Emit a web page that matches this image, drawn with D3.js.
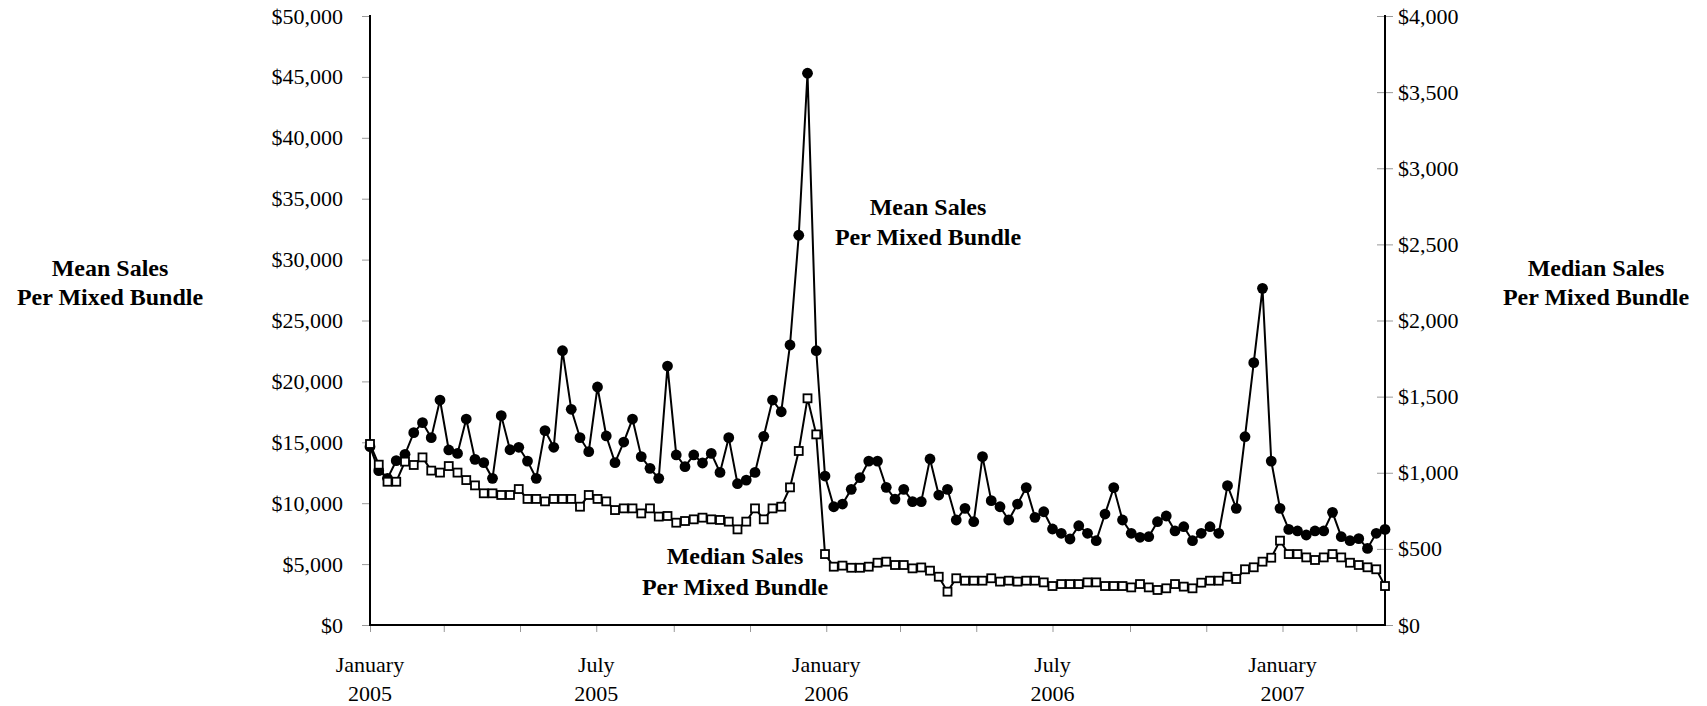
<!DOCTYPE html>
<html>
<head>
<meta charset="utf-8">
<script src="https://cdn.jsdelivr.net/npm/d3@7"></script>
<style>
  html, body { margin: 0; padding: 0; background: #fff; }
  svg { display: block; }
  text { font-family: "Liberation Serif", "Times New Roman", serif; fill: #000; }
</style>
</head>
<body>
<svg id="chart" width="1707" height="706"></svg>
<script>
// ---- Data (weekly, starting first week of January 2005) ----
const startDate = "2005-01-01";
const weekCount = 117;

// Mean sales per mixed bundle (US$), left axis
const meanSales = [
  14640, 12670, 12040, 13490, 14010, 15790, 16610, 15380, 18470, 14370,
  14090, 16910, 13600, 13330, 12040, 17190, 14390, 14590, 13460, 12040,
  15960, 14590, 22520, 17710, 15380, 14230, 19540, 15520, 13330, 15020,
  16910, 13820, 12860, 12040, 21260, 13960, 13000, 13960, 13300, 14090,
  12530, 15380, 11600, 11900, 12530, 15490, 18470, 17510, 22990, 32000,
  45300, 22520, 12230, 9710, 9930, 11140, 12100, 13460, 13460, 11300,
  10340, 11140, 10130, 10130, 13630, 10670, 11140, 8620, 9580, 8480,
  13820, 10210, 9710, 8620, 9930, 11280, 8840, 9300, 7880, 7530,
  7060, 8150, 7530, 6920, 9110, 11280, 8620, 7530, 7200, 7250,
  8480, 8950, 7720, 8070, 6920, 7530, 8070, 7530, 11440, 9580,
  15460, 21540, 27640, 13460, 9580, 7850, 7720, 7390, 7720, 7720,
  9250, 7250, 6920, 7090, 6290, 7530, 7850
];

// Median sales per mixed bundle (US$), right axis
const medianSales = [
  1189, 1053, 941, 941, 1073, 1051, 1101, 1014, 1001, 1044,
  1001, 952, 917, 865, 865, 854, 854, 893, 828, 828,
  812, 828, 828, 828, 777, 854, 828, 812, 755, 766,
  766, 733, 766, 712, 716, 672, 683, 694, 705, 694,
  690, 679, 628, 679, 766, 694, 766, 777, 904, 1143,
  1489, 1252, 466, 383, 390, 376, 376, 383, 409, 416,
  394, 394, 372, 378, 357, 317, 219, 307, 291, 291,
  291, 307, 285, 291, 285, 291, 291, 280, 256, 269,
  269, 269, 280, 280, 256, 256, 256, 247, 269, 247,
  230, 241, 269, 252, 241, 278, 291, 291, 317, 302,
  366, 379, 416, 442, 554, 466, 466, 444, 427, 444,
  466, 444, 409, 394, 379, 366, 256
];

const leftTicks = [0, 5000, 10000, 15000, 20000, 25000, 30000, 35000, 40000, 45000, 50000];
const rightTicks = [0, 500, 1000, 1500, 2000, 2500, 3000, 3500, 4000];
const xLabelMonths = ["2005-01-01", "2005-07-01", "2006-01-01", "2006-07-01", "2007-01-01"];

const leftTitle = ["Mean Sales", "Per Mixed Bundle"];
const rightTitle = ["Median Sales", "Per Mixed Bundle"];
const meanNote = ["Mean Sales", "Per Mixed Bundle"];
const medianNote = ["Median Sales", "Per Mixed Bundle"];

// ---- Layout ----
const svg = d3.select("#chart");
const X0 = 370, X1 = 1385, Y0 = 625, Y1 = 16;

const parse = d3.utcParse("%Y-%m-%d");
const t0 = parse(startDate);
const dates = d3.range(weekCount).map(i => d3.utcWeek.offset(t0, i));

const x = d3.scaleUtc().domain([dates[0], dates[dates.length - 1]]).range([X0, X1]);
const yL = d3.scaleLinear().domain([0, 50000]).range([Y0, Y1]);
const yR = d3.scaleLinear().domain([0, 4000]).range([Y0, Y1]);

const fmt = v => "$" + d3.format(",")(v);

// Left axis
const gL = svg.append("g").attr("transform", `translate(${X0},0)`)
  .call(d3.axisLeft(yL).tickValues(leftTicks).tickFormat(fmt).tickSize(8).tickPadding(19));
gL.select(".domain").remove();
gL.selectAll(".tick line").attr("stroke", "#999").attr("stroke-width", 1);
gL.selectAll(".tick text").attr("font-size", 22).attr("font-family", "Liberation Serif, serif").attr("fill", "#000");

// Right axis (ticks cross the axis line)
const gR = svg.append("g").attr("transform", `translate(${X1},0)`)
  .call(d3.axisRight(yR).tickValues(rightTicks).tickFormat(fmt).tickSize(8).tickPadding(5));
gR.select(".domain").remove();
gR.selectAll(".tick line").attr("x1", -8).attr("x2", 8).attr("stroke", "#999").attr("stroke-width", 1);
gR.selectAll(".tick text").attr("font-size", 22).attr("font-family", "Liberation Serif, serif").attr("fill", "#000");

// Bottom axis: ticks every two months, labels at January and July
const tickDates = d3.utcMonth.every(2).range(parse("2005-01-01"), parse("2007-04-01"));
const gB = svg.append("g").attr("transform", `translate(0,${Y0})`)
  .call(d3.axisBottom(x).tickValues(tickDates).tickFormat("").tickSize(7));
gB.select(".domain").remove();
gB.selectAll(".tick line").attr("stroke", "#999").attr("stroke-width", 1);

const labelDates = xLabelMonths.map(parse);
const monthName = d3.utcFormat("%B"), yearName = d3.utcFormat("%Y");
const xl = svg.append("g");
labelDates.forEach(d => {
  const t = xl.append("text").attr("x", x(d)).attr("text-anchor", "middle").attr("font-size", 22);
  t.append("tspan").attr("x", x(d)).attr("y", 672).text(monthName(d));
  t.append("tspan").attr("x", x(d)).attr("y", 701).text(yearName(d));
});

// Axis lines
svg.append("line").attr("x1", X0).attr("x2", X0).attr("y1", Y1 - 1).attr("y2", Y0 + 1).attr("stroke", "#000").attr("stroke-width", 2);
svg.append("line").attr("x1", X1).attr("x2", X1).attr("y1", Y1 - 1).attr("y2", Y0 + 1).attr("stroke", "#000").attr("stroke-width", 2);
svg.append("line").attr("x1", X0 - 1).attr("x2", X1 + 1).attr("y1", Y0).attr("y2", Y0).attr("stroke", "#000").attr("stroke-width", 2);

// Mean series
const meanLine = d3.line().x((d, i) => x(dates[i])).y(d => yL(d));
svg.append("path").datum(meanSales).attr("d", meanLine)
  .attr("fill", "none").attr("stroke", "#000").attr("stroke-width", 2);
svg.append("g").selectAll("circle").data(meanSales).join("circle")
  .attr("cx", (d, i) => x(dates[i])).attr("cy", d => yL(d)).attr("r", 5.4).attr("fill", "#000");

// Median series
const medLine = d3.line().x((d, i) => x(dates[i])).y(d => yR(d));
svg.append("path").datum(medianSales).attr("d", medLine)
  .attr("fill", "none").attr("stroke", "#000").attr("stroke-width", 2);
const sq = 8;
svg.append("g").selectAll("rect").data(medianSales).join("rect")
  .attr("x", (d, i) => x(dates[i]) - sq / 2).attr("y", d => yR(d) - sq / 2)
  .attr("width", sq).attr("height", sq)
  .attr("fill", "#fff").attr("stroke", "#000").attr("stroke-width", 1.8);

// Titles / annotations
function block(lines, cx, y1, y2) {
  const t = svg.append("text").attr("text-anchor", "middle").attr("font-weight", "bold").attr("font-size", 24);
  t.append("tspan").attr("x", cx).attr("y", y1).text(lines[0]);
  t.append("tspan").attr("x", cx).attr("y", y2).text(lines[1]);
}
block(leftTitle, 110, 276, 305);
block(rightTitle, 1596, 276, 305);
block(meanNote, 928, 215, 245);
block(medianNote, 735, 564, 595);
</script>
</body>
</html>
